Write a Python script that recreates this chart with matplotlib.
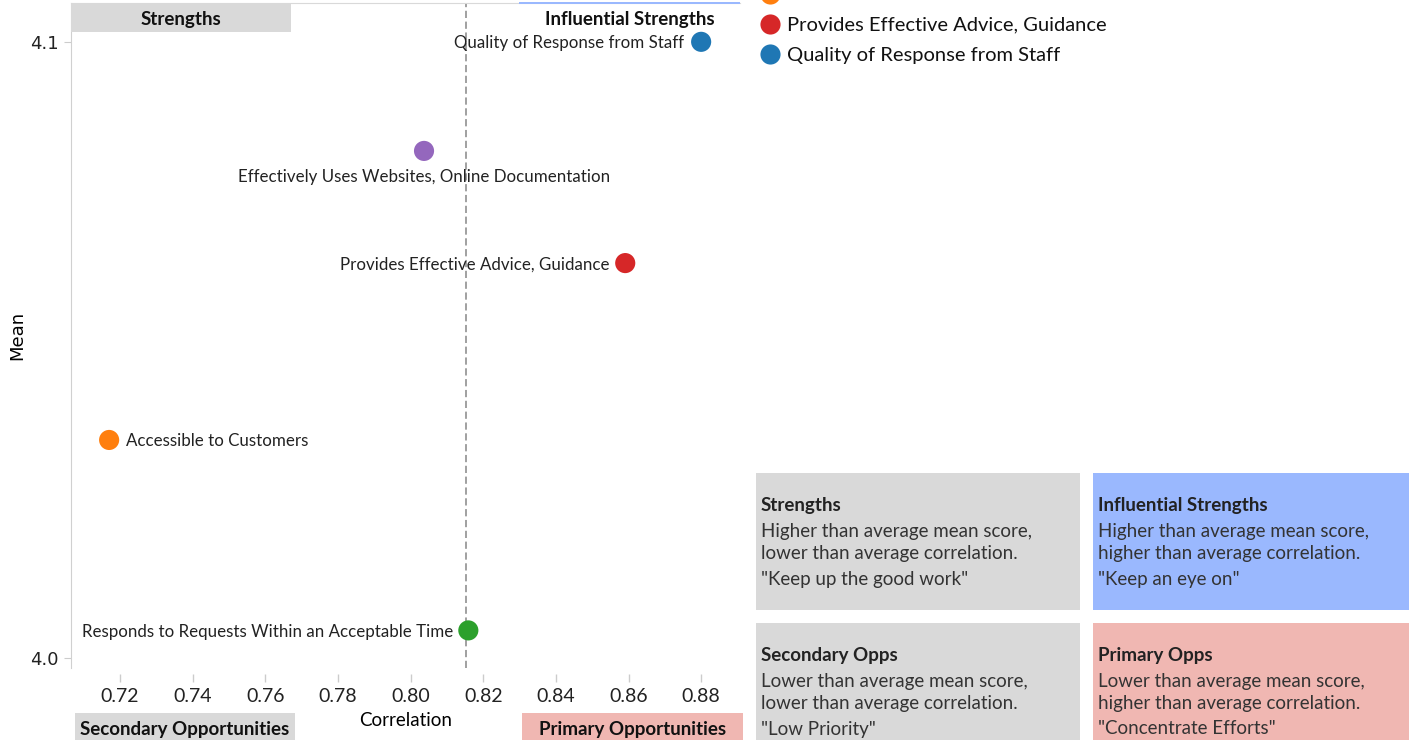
import matplotlib
matplotlib.use("Agg")
import matplotlib.pyplot as plt
from matplotlib.patches import Rectangle
from matplotlib.lines import Line2D
from matplotlib.transforms import ScaledTranslation
import numpy as np

# data
items = ["Quality of Response from Staff",
         "Effectively Uses Websites, Online Documentation",
         "Provides Effective Advice, Guidance",
         "Accessible to Customers",
         "Responds to Requests Within an Acceptable Time"]
correlation = [0.8800, 0.8037, 0.8591, 0.7170, 0.8159]
mean_score = [4.1000, 4.0823, 4.0641, 4.0354, 4.0045]
colors = ["#1f77b4", "#9467bd", "#d62728", "#ff7f0e", "#2ca02c"]
legend_order = [4, 1, 3, 2, 0]

W, H = 1411, 740
LABEL_FONT = "Lato"


def fx(px):
    return px / W


def fy(py):
    return 1 - py / H


fig = plt.figure(figsize=(W / 100, H / 100), dpi=100)
ax = fig.add_axes([fx(71), fy(668), fx(740 - 71), (668 - 3) / H])

ax.scatter(correlation, mean_score, s=210, c=colors, zorder=3, linewidths=0)

# label offsets (points) and alignment per item
offsets = [(-12, -1, "right", "center"),
           (0, -13, "center", "top"),
           (-11, -1, "right", "center"),
           (12, -1, "left", "center"),
           (-11, -1, "right", "center")]
for name, x, y, (dx, dy, ha, va) in zip(items, correlation, mean_score, offsets):
    ax.annotate(name, (x, y), xytext=(dx, dy), textcoords="offset points",
                ha=ha, va=va, fontsize=12.2, family=LABEL_FONT, color="#222222")

# average correlation line
avg_corr = np.mean(correlation)
ax.axvline(avg_corr, color="#999999", ls=(0, (4, 2)), lw=1.3, zorder=1)

ax.set_xlim(0.7065, 0.8907)
ax.set_ylim(3.9984, 4.1063)
xt = np.arange(0.72, 0.881, 0.02)
ax.set_xticks(xt)
ax.set_xticklabels([f"{v:.2f}" for v in xt], family=LABEL_FONT)
ax.set_yticks([4.0, 4.1])
ax.set_yticklabels(["4.0", "4.1"])

for s in ["right", "bottom"]:
    ax.spines[s].set_visible(False)
ax.spines["left"].set_color("#d0d0d0")
ax.spines["top"].set_color("#d9d9d9")
ax.tick_params(axis="x", length=6, width=1, color="#cccccc", pad=8.5,
               labelsize=14, labelcolor="#222222", direction="out")
ax.tick_params(axis="y", length=5, color="#cccccc", labelsize=13,
               labelcolor="#222222", pad=4)
ax.set_xlabel("Correlation", fontsize=13.5, family=LABEL_FONT, labelpad=5)
ax.set_ylabel("Mean", fontsize=13)
ax.yaxis.set_label_coords(-fx(71 - 26) / fx(740 - 71), 0.5)
# push the x tick marks below the plot
for t in ax.xaxis.get_major_ticks():
    t.tick1line.set_transform(t.tick1line.get_transform() + ScaledTranslation(0, -4 / 72, fig.dpi_scale_trans))


# quadrant tags around the plot
def tag(x0, y0, x1, y1, text, fc, ty=None):
    fig.patches.append(Rectangle((fx(x0), fy(y1)), fx(x1 - x0), (y1 - y0) / H,
                                 transform=fig.transFigure, fc=fc, ec="none", zorder=0))
    if text:
        fig.text(fx((x0 + x1) / 2), fy(ty if ty else (y0 + y1) / 2), text,
                 ha="center", va="center", fontsize=13.5, fontweight="bold",
                 family=LABEL_FONT, color="#111111")


tag(71, 3, 291, 32, "Strengths", "#d9d9d9", ty=19)
tag(519, 2, 740, 4, None, "#9ab8fe")
fig.text(fx(715), fy(19), "Influential Strengths", ha="right", va="center",
         fontsize=13.5, fontweight="bold", family=LABEL_FONT, color="#111111")
tag(75, 713, 295, 745, "Secondary Opportunities", "#d9d9d9", ty=730)
tag(522, 713, 743, 745, "Primary Opportunities", "#f0b7b2", ty=730)

# colour legend (its upper entries are cut off by the top edge, as in the source)
for k, i in enumerate(legend_order):
    ly = 54 - 30 * (len(legend_order) - 1 - k)
    fig.add_artist(Line2D([fx(770)], [fy(ly)], ls="none", marker="o", ms=14.5,
                          mfc=colors[i], mec="none", transform=fig.transFigure))
    fig.text(fx(787), fy(ly + 1), items[i], ha="left", va="center", fontsize=14.5,
             family=LABEL_FONT, color="#111111")

# explanation boxes
boxes = [
    (756, 473, 1080, 610, "#d9d9d9", "Strengths",
     ["Higher than average mean score,", "lower than average correlation.", "\"Keep up the good work\""]),
    (1093, 473, 1409, 610, "#9ab8fe", "Influential Strengths",
     ["Higher than average mean score,", "higher than average correlation.", "\"Keep an eye on\""]),
    (756, 623, 1080, 740, "#d9d9d9", "Secondary Opps",
     ["Lower than average mean score,", "lower than average correlation.", "\"Low Priority\""]),
    (1093, 623, 1409, 740, "#f0b7b2", "Primary Opps",
     ["Lower than average mean score,", "higher than average correlation.", "\"Concentrate Efforts\""]),
]
for x0, y0, x1, y1, fc, title, lines in boxes:
    fig.patches.append(Rectangle((fx(x0), fy(y1)), fx(x1 - x0), (y1 - y0) / H,
                                 transform=fig.transFigure, fc=fc, ec="none", zorder=0))
    fig.text(fx(x0 + 5), fy(y0 + 32), title, ha="left", va="center", fontsize=13.5,
             fontweight="bold", family=LABEL_FONT, color="#222222")
    for ln, dy in zip(lines, [58, 80, 106]):
        fig.text(fx(x0 + 5), fy(y0 + dy), ln, ha="left", va="center", fontsize=13.5,
                 family=LABEL_FONT, color="#333333")

fig.savefig("out.png", dpi=100)
